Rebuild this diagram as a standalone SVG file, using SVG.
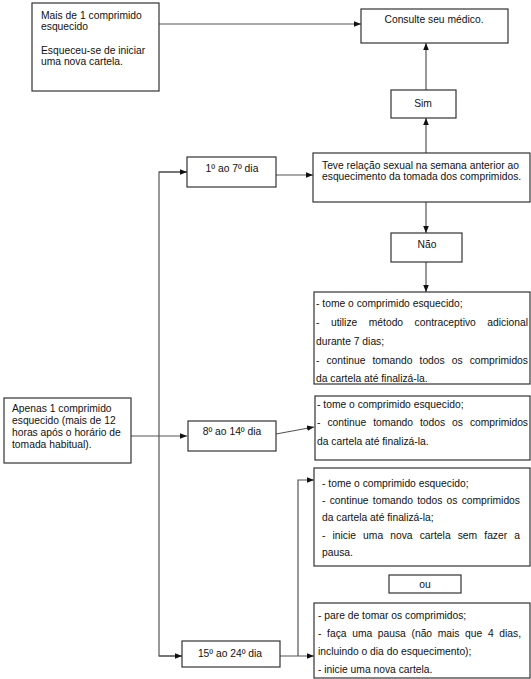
<svg xmlns="http://www.w3.org/2000/svg" width="531" height="679" viewBox="0 0 531 679">
<defs>
<marker id="ah" viewBox="0 0 10 10" refX="10" refY="5" markerWidth="7" markerHeight="7" markerUnits="userSpaceOnUse" orient="auto">
<path d="M0,1 L10,5 L0,9 Z" fill="#111"/>
</marker>
<style>
rect{fill:#fff;stroke:#333;stroke-width:1.2}
text{font-family:"Liberation Sans",Arial,sans-serif;font-size:10.3px;fill:#111}
.c{text-anchor:middle}
.ln{fill:none;stroke:#555;stroke-width:1.2}
.ar{marker-end:url(#ah)}
</style>
</defs>
<rect width="531" height="679" style="fill:#fff;stroke:none"/>
<g id="connectors">
<line class="ln ar" x1="159" y1="24" x2="361" y2="24"/>
<line class="ln ar" x1="426" y1="90" x2="426" y2="43"/>
<line class="ln ar" x1="426" y1="153" x2="426" y2="118"/>
<line class="ln ar" x1="426" y1="202" x2="426" y2="233"/>
<line class="ln ar" x1="426" y1="262" x2="426" y2="292"/>
<polyline class="ln" points="182,656 159,656 159,172 187,172"/>
<line class="ln ar" x1="159" y1="172" x2="187" y2="172"/>
<line class="ln ar" x1="159" y1="656" x2="182" y2="656"/>
<line class="ln ar" x1="131" y1="436" x2="187" y2="436"/>
<line class="ln ar" x1="276" y1="175" x2="313" y2="175"/>
<line class="ln ar" x1="276" y1="434" x2="314" y2="427"/>
<line class="ln ar" x1="280" y1="656" x2="314" y2="656"/>
<polyline class="ln ar" points="298,656 298,480 314,480"/>
</g>
<g id="mais">
<rect x="32" y="3" width="127" height="88"/>
<text x="41" y="19">Mais de 1 comprimido</text>
<text x="41" y="30">esquecido</text>
<text x="41" y="54">Esqueceu-se de iniciar</text>
<text x="41" y="65">uma nova cartela.</text>
</g>
<g id="consulte">
<rect x="361" y="9" width="147" height="34"/>
<text class="c" x="434" y="23">Consulte seu médico.</text>
</g>
<g id="sim">
<rect x="391" y="90" width="65" height="28"/>
<text class="c" x="423" y="107">Sim</text>
</g>
<g id="d1a7">
<rect x="187" y="157" width="89" height="30"/>
<text class="c" x="232" y="172">1º ao 7º dia</text>
</g>
<g id="pergunta">
<rect x="313" y="153" width="217" height="49"/>
<text x="322" y="169">Teve relação sexual na semana anterior ao</text>
<text x="322" y="180">esquecimento da tomada dos comprimidos.</text>
</g>
<g id="nao">
<rect x="391" y="233" width="71" height="29"/>
<text class="c" x="427" y="248">Não</text>
</g>
<g id="acao1">
<rect x="314" y="292" width="216" height="92"/>
<text x="316" y="307">- tome o comprimido esquecido;</text>
<text x="316" y="326" word-spacing="8.6" textLength="212" lengthAdjust="spacing">- utilize método contraceptivo adicional</text>
<text x="316" y="345">durante 7 dias;</text>
<text x="316" y="364" word-spacing="4.2" textLength="212" lengthAdjust="spacing">- continue tomando todos os comprimidos</text>
<text x="316" y="382">da cartela até finalizá-la.</text>
</g>
<g id="apenas">
<rect x="4" y="398" width="127" height="65"/>
<text x="12" y="412">Apenas 1 comprimido</text>
<text x="12" y="424">esquecido (mais de 12</text>
<text x="12" y="436">horas após o horário de</text>
<text x="12" y="448">tomada habitual).</text>
</g>
<g id="d8a14">
<rect x="188" y="421" width="88" height="30"/>
<text class="c" x="232" y="435">8º ao 14º dia</text>
</g>
<g id="acao2">
<rect x="315" y="396" width="215" height="64"/>
<text x="317" y="408">- tome o comprimido esquecido;</text>
<text x="317" y="426" word-spacing="4.2" textLength="211" lengthAdjust="spacing">- continue tomando todos os comprimidos</text>
<text x="317" y="445">da cartela até finalizá-la.</text>
</g>
<g id="acao3">
<rect x="314" y="468" width="216" height="98"/>
<text x="322" y="487">- tome o comprimido esquecido;</text>
<text x="322" y="504" word-spacing="1.4" textLength="198" lengthAdjust="spacing">- continue tomando todos os comprimidos</text>
<text x="322" y="521">da cartela até finalizá-la;</text>
<text x="322" y="539" word-spacing="4.2" textLength="198" lengthAdjust="spacing">- inicie uma nova cartela sem fazer a</text>
<text x="322" y="556">pausa.</text>
</g>
<g id="ou">
<rect x="389" y="575" width="72" height="18"/>
<text class="c" x="425" y="588">ou</text>
</g>
<g id="d15a24">
<rect x="182" y="641" width="98" height="26"/>
<text class="c" x="230" y="657">15º ao 24º dia</text>
</g>
<g id="acao4">
<rect x="314" y="603" width="216" height="75"/>
<text x="318" y="619">- pare de tomar os comprimidos;</text>
<text x="318" y="637" word-spacing="2.8" textLength="203" lengthAdjust="spacing">- faça uma pausa (não mais que 4 dias,</text>
<text x="318" y="655">incluindo o dia do esquecimento);</text>
<text x="318" y="673">- inicie uma nova cartela.</text>
</g>
</svg>
